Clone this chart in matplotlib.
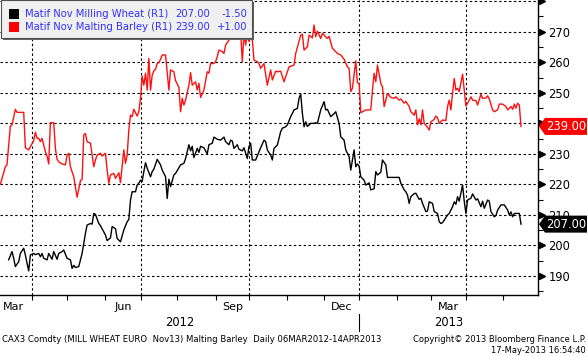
import numpy as np
import pandas as pd
import matplotlib
matplotlib.use('Agg')
import matplotlib.pyplot as plt
import matplotlib.transforms as mtransforms
from matplotlib.patches import Rectangle, Polygon

# x = trading-day index, 0 = 06MAR2012
barley_day = [0, 3, 4, 6, 7, 9, 10, 14, 15, 17, 18, 20, 21, 22, 23, 24, 25, 27, 28, 29,
              30, 32, 33, 34, 35, 37, 39, 40, 41, 42, 44, 46, 48, 49, 50, 51, 52, 54, 56, 57,
              58, 60, 61, 63, 64, 65, 66, 68, 69, 71, 72, 74, 75, 76, 77, 78, 79, 80, 82, 83,
              84, 85, 86, 87, 88, 89, 90, 91, 92, 93, 94, 95, 96, 97, 99, 101, 102, 104, 105, 107,
              108, 109, 110, 111, 113, 114, 115, 117, 118, 119, 120, 122, 123, 124, 125, 126, 128, 129, 130, 131,
              133, 134, 135, 137, 138, 140, 142, 144, 145, 146, 147, 148, 149, 150, 151, 152, 154, 155, 156, 158,
              160, 162, 163, 165, 166, 168, 170, 173, 176, 177, 180, 181, 182, 184, 185, 187, 188, 189, 190, 192,
              193, 195, 196, 197, 199, 202, 204, 206, 208, 209, 210, 211, 213, 214, 215, 216, 219, 222, 223, 224,
              225, 226, 228, 229, 230, 232, 234, 236, 237, 239, 240, 242, 243, 245, 246, 248, 249, 250, 251, 252,
              253, 254, 256, 257, 258, 260, 261, 262, 263, 265, 267, 268, 269, 270, 271, 272, 273, 274, 275, 277,
              278, 279, 280, 282, 283, 285, 286, 288, 289, 291, 292, 293, 295, 296, 298, 299, 301, 303, 304, 306,
              307, 308, 309, 310, 311, 312]
barley_val = [220.0, 225.8, 226.4, 239.1, 239.5, 244.6, 243.6, 243.6, 232.0, 231.3, 232.4, 234.3, 237.1, 235.1, 235.1, 234.0, 235.1, 230.7, 229.3, 226.7,
              240.2, 240.2, 231.8, 228.2, 227.4, 226.7, 226.4, 229.6, 230.2, 225.8, 222.5, 215.8, 221.2, 221.7, 236.2, 236.7, 234.0, 233.5, 225.8, 228.0,
              229.6, 230.2, 229.3, 230.2, 224.7, 220.4, 223.1, 223.6, 222.0, 223.8, 220.6, 231.3, 226.9, 229.6, 237.8, 242.7, 242.2, 244.6, 242.4, 243.8,
              248.2, 255.5, 252.5, 256.4, 250.9, 261.3, 250.9, 255.8, 257.2, 257.7, 259.6, 259.9, 261.0, 262.4, 262.4, 250.9, 257.5, 256.9, 254.0, 251.8,
              243.8, 248.2, 246.0, 247.6, 252.5, 256.6, 252.5, 253.6, 250.9, 253.1, 248.5, 250.9, 253.9, 256.9, 256.4, 259.6, 259.6, 260.2, 261.9, 264.0,
              263.5, 262.9, 265.6, 267.3, 268.9, 270.3, 271.0, 270.0, 260.2, 269.5, 265.6, 269.5, 266.8, 269.5, 267.3, 260.7, 260.2, 259.6, 258.0, 259.6,
              252.5, 257.5, 254.2, 257.1, 256.9, 257.1, 253.6, 258.5, 259.1, 262.9, 268.9, 269.2, 264.0, 265.1, 268.9, 268.0, 272.2, 268.4, 270.2, 267.8,
              269.5, 268.4, 267.8, 268.5, 264.6, 262.9, 262.4, 261.0, 258.5, 258.0, 250.4, 251.5, 260.5, 253.3, 253.1, 243.5, 244.4, 244.4, 250.9, 256.4,
              253.6, 259.1, 253.1, 252.0, 245.5, 249.8, 248.5, 248.2, 248.7, 247.6, 248.0, 246.6, 247.2, 245.5, 243.8, 242.7, 244.4, 239.5, 241.5, 239.5,
              244.4, 240.0, 238.7, 237.8, 240.5, 241.3, 242.4, 241.8, 240.0, 241.1, 240.9, 245.5, 247.6, 244.4, 249.8, 254.7, 250.9, 251.5, 250.4, 256.1,
              250.9, 245.7, 246.6, 248.7, 247.6, 247.5, 246.0, 249.5, 248.2, 248.3, 249.0, 248.0, 244.4, 243.8, 244.4, 246.3, 246.3, 245.5, 244.4, 245.5,
              244.6, 246.3, 245.0, 246.6, 246.0, 239.0]

wheat_day = [5, 7, 8, 9, 11, 12, 14, 15, 16, 17, 18, 20, 21, 23, 24, 25, 26, 28, 29, 31,
             32, 34, 35, 37, 38, 40, 42, 43, 44, 45, 47, 49, 51, 52, 54, 55, 56, 57, 59, 60,
             63, 64, 66, 67, 69, 70, 72, 74, 76, 77, 78, 79, 81, 82, 83, 84, 85, 86, 87, 88,
             90, 91, 92, 94, 96, 97, 99, 100, 101, 102, 104, 105, 108, 110, 111, 113, 114, 115, 116, 118,
             119, 120, 122, 124, 125, 127, 128, 130, 132, 134, 135, 137, 138, 139, 140, 142, 143, 145, 146, 148,
             149, 150, 151, 153, 155, 156, 158, 159, 160, 162, 163, 164, 166, 168, 169, 171, 172, 174, 176, 178,
             179, 180, 181, 182, 183, 184, 186, 188, 189, 190, 192, 194, 195, 196, 198, 200, 201, 203, 204, 206,
             207, 209, 210, 211, 212, 213, 214, 215, 216, 218, 219, 221, 222, 224, 225, 226, 228, 229, 231, 232,
             235, 239, 240, 242, 243, 244, 245, 246, 248, 249, 251, 252, 253, 255, 256, 257, 259, 260, 262, 263,
             264, 265, 266, 268, 269, 271, 272, 273, 274, 275, 276, 277, 278, 279, 280, 282, 283, 285, 286, 288,
             289, 290, 292, 293, 294, 296, 297, 298, 300, 302, 304, 305, 306, 307, 308, 309, 311, 312]
wheat_val = [195.3, 198.0, 195.8, 193.1, 194.7, 197.4, 199.1, 196.9, 194.2, 191.7, 196.9, 197.4, 197.0, 197.4, 196.3, 197.4, 195.8, 195.3, 197.4, 195.5,
             198.0, 195.5, 197.4, 198.0, 198.5, 195.8, 195.3, 192.5, 193.5, 192.8, 193.1, 197.4, 204.0, 206.7, 207.2, 207.0, 210.5, 210.2, 207.2, 206.5,
             203.4, 201.6, 202.5, 206.2, 205.5, 202.3, 201.2, 205.1, 207.8, 208.5, 214.9, 217.6, 217.6, 219.8, 220.4, 221.4, 221.0, 224.2, 227.1, 225.3,
             222.5, 224.2, 225.0, 228.2, 226.4, 224.7, 222.5, 215.4, 221.7, 219.3, 223.1, 223.6, 226.4, 226.9, 228.5, 233.0, 231.0, 232.5, 228.8, 231.8,
             230.5, 232.5, 232.0, 230.0, 233.0, 233.5, 235.5, 234.8, 234.5, 235.5, 234.0, 233.0, 234.5, 234.2, 231.8, 233.0, 231.5, 231.0, 232.0, 228.5,
             232.4, 233.5, 228.0, 228.0, 230.7, 232.0, 234.5, 234.0, 231.3, 229.6, 228.0, 231.8, 232.9, 237.3, 238.4, 238.9, 239.5, 242.2, 244.4, 244.9,
             248.2, 249.6, 243.3, 238.9, 240.5, 239.0, 240.0, 240.0, 240.2, 240.0, 244.4, 247.1, 244.4, 244.6, 242.2, 243.2, 243.8, 240.0, 235.6, 234.5,
             231.3, 229.1, 224.7, 228.0, 231.3, 225.8, 226.7, 226.0, 222.5, 221.4, 219.8, 220.5, 218.2, 218.6, 224.2, 223.1, 224.0, 228.0, 226.4, 222.3,
             222.3, 222.3, 220.4, 218.2, 217.6, 216.5, 213.8, 216.0, 217.0, 217.1, 215.1, 215.5, 213.8, 211.1, 211.3, 214.3, 213.8, 211.1, 210.5, 207.8,
             207.2, 207.5, 208.3, 210.0, 210.5, 212.7, 214.3, 213.5, 216.0, 214.5, 217.1, 219.8, 214.5, 210.5, 214.9, 215.5, 216.9, 214.9, 215.3, 212.7,
             214.5, 212.2, 214.9, 214.5, 211.1, 209.4, 209.8, 211.6, 213.3, 213.3, 211.6, 210.0, 211.0, 209.4, 210.5, 210.5, 210.5, 207.0]

y_ticks = [190, 200, 210, 220, 230, 240, 250, 260, 270, 280]
label_months = [(2012, 3, 'Mar'), (2012, 6, 'Jun'), (2012, 9, 'Sep'), (2012, 12, 'Dec'), (2013, 3, 'Mar')]
years = ['2012', '2013']
legend_rows = [('Matif Nov Milling Wheat (R1)', '207.00', '-1.50', 'black'),
               ('Matif Nov Malting Barley (R1)', '239.00', '+1.00', 'red')]

W, H = 588, 356
def px(x, y):
    return x / W, 1 - y / H

# business day calendar -> tick positions
cal = pd.bdate_range('2012-03-01', '2013-08-30')
off = cal.get_loc(pd.Timestamp('2012-03-06'))
pos = np.arange(len(cal)) - off
first = np.r_[True, cal.month[1:] != cal.month[:-1]]
month_start = pos[first]
month_dates = cal[first]
is_q = np.isin(month_dates.month, [1, 4, 7, 10])
quarter_start = month_start[is_q]
jan1 = quarter_start[month_dates[is_q].month == 1][0]

mid = []
for yr, mo, _ in label_months:
    i = np.where((month_dates.year == yr) & (month_dates.month == mo))[0][0]
    mid.append((month_start[i] + month_start[i + 1]) / 2)

xmin, xmax = -0.2, 322.2

fig = plt.figure(figsize=(W / 100, H / 100), dpi=100)
ax = fig.add_axes([0, 61.5 / H, 538 / W, 294.5 / H])

for q in quarter_start:
    ax.axvline(q, color='black', lw=0.8, ls=(0, (2.2, 2.2)), zorder=1)
for yv in y_ticks:
    ax.axhline(yv, color='black', lw=0.8, ls=(0, (2.2, 2.2)), zorder=1)

ax.plot(barley_day, barley_val, color='#ff1010', lw=1.0, zorder=3)
ax.plot(wheat_day, wheat_val, color='black', lw=1.0, zorder=3)

ax.set_xlim(xmin, xmax)
ax.set_ylim(183.95, 280.4)

for s in ['left', 'top']:
    ax.spines[s].set_visible(False)
for s in ['right', 'bottom']:
    ax.spines[s].set_linewidth(1.0)

ax.yaxis.tick_right()
ax.set_yticks(y_ticks)
ax.set_yticklabels([str(v) for v in y_ticks[:-1]] + [''])
ax.set_yticks(np.arange(185, 280, 5), minor=True)
ax.tick_params(axis='y', which='major', length=0, pad=7.5, labelsize=8.3)
ax.tick_params(axis='y', which='minor', length=3.5, width=0.8, direction='out')
ax.plot([1.0075] * len(y_ticks), y_ticks, marker='>', ls='none', ms=4.2, color='black',
        transform=ax.get_yaxis_transform(), clip_on=False)

ax.set_xticks(mid)
ax.set_xticklabels([m[2] for m in label_months])
ax.set_xticks(month_start[(month_start > xmin) & (month_start < xmax)], minor=True)
ax.tick_params(axis='x', which='major', length=0, pad=5.5, labelsize=8)
ax.tick_params(axis='x', which='minor', length=3.5, width=0.8, direction='out')

# year row
xt = ax.get_xaxis_transform()
ax.text((xmin + jan1) / 2, -27.5 / 294.5, years[0], transform=xt, ha='center', va='center', fontsize=8.3)
ax.text((jan1 + xmax) / 2, -27.5 / 294.5, years[1], transform=xt, ha='center', va='center', fontsize=8.3)
ax.plot([jan1, jan1], [-19 / 294.5, -36 / 294.5], color='black', lw=0.8, transform=xt, clip_on=False)

# last value tags (cover the axis label underneath, as in the original)
disp = mtransforms.IdentityTransform()
x_ax = ax.transAxes.transform((1, 0))[0]
for val, col in [(barley_val[-1], '#ff0000'), (wheat_val[-1], 'black')]:
    yc = ax.transData.transform((0, val))[1]
    poly = Polygon([(x_ax + 1, yc), (x_ax + 7, yc + 8.5), (x_ax + 49, yc + 8.5),
                    (x_ax + 49, yc - 8.5), (x_ax + 7, yc - 8.5)],
                   closed=True, transform=disp, facecolor=col, edgecolor='none', zorder=10)
    fig.add_artist(poly)
    fig.text(x_ax + 28, yc, f'{val:.2f}', transform=disp, ha='center', va='center',
             color='white', fontsize=8.3, zorder=11)

# legend box
fig.add_artist(Rectangle(px(3, 40), 251 / W, 38 / H, transform=fig.transFigure,
                         facecolor='#606060', edgecolor='none', zorder=8))
fig.add_artist(Rectangle(px(1, 38), 251 / W, 38 / H, transform=fig.transFigure,
                         facecolor='#f0f0f0', edgecolor='#505050', lw=0.8, zorder=9))
for i, (name, last, chg, col) in enumerate(legend_rows):
    yc = 14.3 + 12.4 * i
    fig.add_artist(Rectangle(px(8.5, yc + 5), 10 / W, 10 / H, transform=fig.transFigure,
                             facecolor=col, edgecolor='none', zorder=10))
    fig.text(*px(25, yc), name, color='#3030ff', fontsize=7.2, ha='left', va='center', zorder=11)
    fig.text(*px(210, yc), last, color='#3030ff', fontsize=7.2, ha='right', va='center', zorder=11)
    fig.text(*px(247, yc), chg, color='#3030ff', fontsize=7.2, ha='right', va='center', zorder=11)

# footer
fig.text(*px(2, 340), 'CAX3 Comdty (MILL WHEAT EURO  Nov13) Malting Barley  Daily 06MAR2012-14APR2013',
         fontsize=6.15, ha='left', va='center')
fig.text(*px(586, 340), 'Copyright\u00a9 2013 Bloomberg Finance L.P.', fontsize=6.05, ha='right', va='center')
fig.text(*px(586, 350.5), '17-May-2013 16:54:40', fontsize=6.05, ha='right', va='center')

fig.savefig('out.png', dpi=100)
